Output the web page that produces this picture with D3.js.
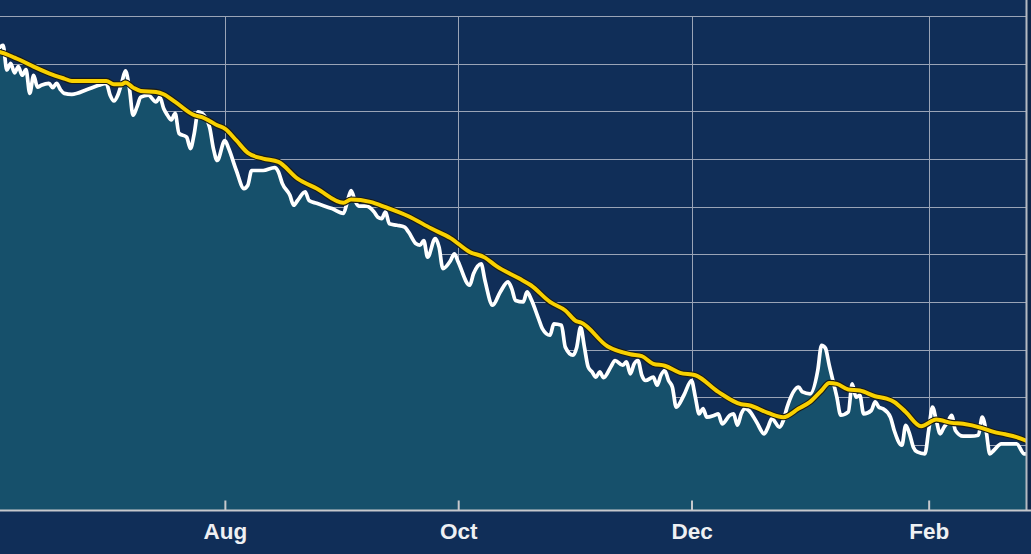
<!DOCTYPE html>
<html>
<head>
<meta charset="utf-8">
<script src="https://cdn.jsdelivr.net/npm/d3@7"></script>
<style>
  html, body { margin: 0; padding: 0; background: #102e58; overflow: hidden; }
</style>
</head>
<body>
<div id="chart"></div>
<script>
// daily series (white line + area)
const dailyDates = [
  "2023-06-03","2023-06-04","2023-06-05","2023-06-06","2023-06-07","2023-06-08","2023-06-09","2023-06-10",
  "2023-06-11","2023-06-12","2023-06-13","2023-06-14","2023-06-16","2023-06-17","2023-06-18","2023-06-19",
  "2023-06-20","2023-06-22","2023-06-26","2023-06-29","2023-07-01","2023-07-02","2023-07-03","2023-07-04",
  "2023-07-05","2023-07-06","2023-07-07","2023-07-08","2023-07-09","2023-07-10","2023-07-12","2023-07-14",
  "2023-07-15","2023-07-16","2023-07-17","2023-07-18","2023-07-19","2023-07-20","2023-07-22","2023-07-23",
  "2023-07-24","2023-07-25","2023-07-26","2023-07-28","2023-07-29","2023-07-30","2023-08-01","2023-08-02",
  "2023-08-04","2023-08-06","2023-08-07","2023-08-08","2023-08-11","2023-08-14","2023-08-15","2023-08-16",
  "2023-08-18","2023-08-19","2023-08-20","2023-08-22","2023-08-23","2023-08-25","2023-08-29","2023-09-01",
  "2023-09-02","2023-09-03","2023-09-04","2023-09-05","2023-09-07","2023-09-09","2023-09-10","2023-09-11",
  "2023-09-12","2023-09-13","2023-09-15","2023-09-17","2023-09-18","2023-09-20","2023-09-21","2023-09-22",
  "2023-09-23","2023-09-25","2023-09-26","2023-09-27","2023-09-29","2023-09-30","2023-10-01","2023-10-04",
  "2023-10-05","2023-10-07","2023-10-08","2023-10-10","2023-10-12","2023-10-14","2023-10-15","2023-10-16",
  "2023-10-18","2023-10-19","2023-10-20","2023-10-22","2023-10-23","2023-10-25","2023-10-26","2023-10-28",
  "2023-10-29","2023-10-31","2023-11-01","2023-11-02","2023-11-03","2023-11-04","2023-11-05","2023-11-06",
  "2023-11-07","2023-11-08","2023-11-10","2023-11-11","2023-11-13","2023-11-14","2023-11-15","2023-11-16",
  "2023-11-17","2023-11-18","2023-11-19","2023-11-21","2023-11-22","2023-11-23","2023-11-24","2023-11-25",
  "2023-11-26","2023-11-27","2023-11-29","2023-12-01","2023-12-02","2023-12-03","2023-12-04","2023-12-05",
  "2023-12-07","2023-12-08","2023-12-09","2023-12-11","2023-12-12","2023-12-13","2023-12-14","2023-12-15",
  "2023-12-16","2023-12-18","2023-12-20","2023-12-21","2023-12-22","2023-12-24","2023-12-25","2023-12-26",
  "2023-12-29","2023-12-30","2024-01-01","2024-01-03","2024-01-04","2024-01-05","2024-01-06","2024-01-08",
  "2024-01-09","2024-01-11","2024-01-12","2024-01-13","2024-01-14","2024-01-15","2024-01-17","2024-01-18",
  "2024-01-19","2024-01-20","2024-01-22","2024-01-23","2024-01-25","2024-01-26","2024-01-27","2024-01-28",
  "2024-01-29","2024-01-31","2024-02-01","2024-02-02","2024-02-03","2024-02-04","2024-02-05","2024-02-06",
  "2024-02-07","2024-02-08","2024-02-10","2024-02-12","2024-02-14","2024-02-15","2024-02-16","2024-02-17",
  "2024-02-18","2024-02-20","2024-02-22","2024-02-24","2024-02-26","2024-02-27"
];
const dailyValues = [
  93.3, 93.9, 88.7, 90.1, 88.1, 89.4, 87.6, 88.8,
  83.8, 87.6, 85.1, 85.5, 85.9, 85.0, 85.9, 84.6,
  83.8, 83.6, 84.6, 85.5, 85.9, 83.4, 82.2, 83.4,
  85.9, 88.5, 85.1, 79.2, 80.9, 83.0, 83.4, 82.0,
  83.0, 80.6, 79.2, 78.2, 79.6, 75.4, 74.6, 72.2,
  75.4, 79.9, 79.6, 76.7, 72.2, 69.7, 73.9, 72.2,
  67.6, 63.8, 64.5, 67.6, 67.6, 68.2, 67.3, 64.9,
  62.4, 60.3, 61.3, 63.1, 61.3, 60.7, 59.6, 58.6,
  61.0, 63.4, 61.3, 60.1, 60.1, 58.9, 57.8, 57.5,
  58.9, 56.4, 56.1, 55.7, 54.7, 52.2, 51.9, 52.9,
  49.4, 53.3, 51.5, 47.0, 48.7, 50.1, 48.4, 43.5,
  45.9, 48.0, 44.5, 39.3, 42.1, 44.2, 42.8, 40.3,
  40.0, 42.1, 40.7, 36.5, 34.4, 33.0, 35.4, 35.1,
  30.5, 28.8, 30.5, 34.7, 30.5, 26.3, 25.3, 24.2,
  25.3, 24.1, 26.5, 27.7, 26.7, 27.4, 24.9, 27.0,
  27.7, 24.6, 23.5, 24.2, 22.5, 24.6, 25.6, 23.5,
  22.1, 17.9, 20.4, 23.5, 20.0, 16.5, 17.6, 15.8,
  16.2, 16.5, 14.4, 16.2, 16.5, 14.1, 16.5, 17.6,
  17.2, 14.8, 12.3, 13.7, 15.5, 13.7, 15.1, 17.9,
  22.1, 21.1, 20.7, 25.6, 30.9, 30.3, 26.7, 20.0,
  16.2, 16.9, 22.8, 20.0, 20.4, 16.5, 17.2, 19.0,
  17.9, 17.6, 15.8, 13.0, 9.9, 14.1, 12.3, 9.5,
  8.5, 8.1, 13.0, 17.9, 15.1, 12.3, 13.7, 14.8,
  16.2, 13.0, 11.8, 11.8, 12.0, 15.8, 13.0, 8.1,
  8.8, 10.2, 10.2, 10.2, 8.1, 8.1
];

// moving average (yellow line)
const avgDates = [
  "2023-06-03","2023-06-05","2023-06-07","2023-06-09","2023-06-12","2023-06-16","2023-06-20","2023-06-22",
  "2023-07-01","2023-07-03","2023-07-05","2023-07-06","2023-07-08","2023-07-10","2023-07-14","2023-07-16",
  "2023-07-19","2023-07-24","2023-07-26","2023-07-28","2023-07-30","2023-08-01","2023-08-04","2023-08-07",
  "2023-08-11","2023-08-15","2023-08-20","2023-08-25","2023-09-01","2023-09-03","2023-09-08","2023-09-12",
  "2023-09-18","2023-09-24","2023-09-29","2023-10-04","2023-10-08","2023-10-11","2023-10-17","2023-10-20",
  "2023-10-25","2023-10-29","2023-11-01","2023-11-02","2023-11-09","2023-11-15","2023-11-18","2023-11-21",
  "2023-11-24","2023-11-28","2023-12-02","2023-12-08","2023-12-14","2023-12-16","2023-12-21","2023-12-25",
  "2023-12-29","2024-01-01","2024-01-04","2024-01-06","2024-01-08","2024-01-11","2024-01-14","2024-01-18",
  "2024-01-21","2024-01-23","2024-01-26","2024-01-30","2024-02-03","2024-02-07","2024-02-10","2024-02-15",
  "2024-02-18","2024-02-21","2024-02-24","2024-02-27"
];
const avgValues = [
  92.5, 92.0, 91.3, 90.6, 89.4, 88.0, 86.9, 86.4,
  86.4, 85.7, 85.7, 86.1, 85.0, 84.3, 84.1, 83.6,
  82.0, 79.2, 78.8, 78.0, 77.1, 76.4, 73.9, 71.3,
  70.1, 69.4, 65.9, 63.8, 60.8, 61.5, 61.0, 59.9,
  58.0, 55.4, 53.4, 50.5, 49.3, 47.5, 44.9, 43.5,
  40.0, 38.2, 35.9, 35.7, 30.7, 29.0, 28.6, 27.0,
  26.6, 25.1, 24.6, 21.1, 18.5, 18.3, 16.7, 15.8,
  17.6, 19.0, 21.4, 23.0, 22.8, 21.6, 21.4, 20.2,
  19.7, 19.0, 16.9, 13.9, 15.3, 14.6, 14.4, 13.5,
  12.7, 12.2, 11.6, 10.7
];

const gridValues = [0, 10, 20, 30, 40, 50, 60, 70, 80, 90, 100];
const monthTicks = ["2023-08-01", "2023-10-01", "2023-12-01", "2024-02-01"];
const monthLabels = ["Aug", "Oct", "Dec", "Feb"];

const width = 1031;
const height = 554;
const plotRight = 1027;
const plotBottom = 510.5;

const parse = d3.utcParse("%Y-%m-%d");
const daily = dailyDates.map((d, i) => ({ date: parse(d), value: dailyValues[i] }));
const avg = avgDates.map((d, i) => ({ date: parse(d), value: avgValues[i] }));

const svg = d3.select("#chart")
  .append("svg")
  .attr("width", width)
  .attr("height", height);

svg.append("rect")
  .attr("width", width)
  .attr("height", height)
  .attr("fill", "#102e58");

const x = d3.scaleUtc()
  .domain([new Date(Date.UTC(2023, 5, 3, 5)), new Date(Date.UTC(2024, 1, 26, 17))])
  .range([0, plotRight]);

const y = d3.scaleLinear()
  .domain([-3.8, 103.4])
  .range([plotBottom, 0]);

svg.append("defs").append("clipPath")
  .attr("id", "plot-clip")
  .append("rect")
  .attr("x", 0)
  .attr("y", 0)
  .attr("width", plotRight - 1)
  .attr("height", plotBottom);

// grid
svg.append("g")
  .selectAll("line")
  .data(gridValues)
  .join("line")
  .attr("x1", 0)
  .attr("x2", plotRight)
  .attr("y1", d => Math.round(y(d)) + 0.5)
  .attr("y2", d => Math.round(y(d)) + 0.5)
  .attr("stroke", "#9aa4b6")
  .attr("stroke-width", 1);

svg.append("g")
  .selectAll("line")
  .data(monthTicks.map(parse))
  .join("line")
  .attr("x1", d => Math.round(x(d)) + 0.5)
  .attr("x2", d => Math.round(x(d)) + 0.5)
  .attr("y1", y(100))
  .attr("y2", plotBottom)
  .attr("stroke", "#9aa4b6")
  .attr("stroke-width", 1);

const plot = svg.append("g").attr("clip-path", "url(#plot-clip)");

const area = d3.area()
  .x(d => x(d.date))
  .y0(plotBottom)
  .y1(d => y(d.value))
  .curve(d3.curveMonotoneX);

plot.append("path")
  .datum(daily)
  .attr("d", area)
  .attr("fill", "#16506b");

const line = d3.line()
  .x(d => x(d.date))
  .y(d => y(d.value))
  .curve(d3.curveMonotoneX);

plot.append("path")
  .datum(daily)
  .attr("d", line)
  .attr("fill", "none")
  .attr("stroke", "#ffffff")
  .attr("stroke-width", 3.7)
  .attr("stroke-linejoin", "round")
  .attr("stroke-linecap", "round");

plot.append("path")
  .datum(avg)
  .attr("d", line)
  .attr("fill", "none")
  .attr("stroke", "#1b1b14")
  .attr("stroke-width", 6.2)
  .attr("stroke-linejoin", "round");

plot.append("path")
  .datum(avg)
  .attr("d", line)
  .attr("fill", "none")
  .attr("stroke", "#f8d000")
  .attr("stroke-width", 4)
  .attr("stroke-linejoin", "round");

// right border
svg.append("rect")
  .attr("x", plotRight)
  .attr("y", 0)
  .attr("width", width - plotRight)
  .attr("height", plotBottom)
  .attr("fill", "#0d2649");

svg.append("line")
  .attr("x1", plotRight - 0.5)
  .attr("x2", plotRight - 0.5)
  .attr("y1", 0)
  .attr("y2", plotBottom)
  .attr("stroke", "#b4b9c2")
  .attr("stroke-width", 2);

// x axis
const xAxis = d3.axisBottom(x)
  .tickValues(monthTicks.map(parse))
  .tickFormat((d, i) => monthLabels[i])
  .tickSizeInner(-10)
  .tickSizeOuter(0)
  .tickPadding(13);

const gx = svg.append("g")
  .attr("transform", `translate(0,${plotBottom})`)
  .call(xAxis);

gx.select(".domain").remove();
gx.selectAll(".tick line")
  .attr("stroke", "#c6c8cc")
  .attr("stroke-width", 2);
gx.selectAll(".tick text")
  .attr("fill", "#eef0f3")
  .style("font-family", "'Liberation Sans', Arial, sans-serif")
  .style("font-size", "22.5px")
  .style("font-weight", "bold");

svg.append("line")
  .attr("x1", 0)
  .attr("x2", width)
  .attr("y1", plotBottom)
  .attr("y2", plotBottom)
  .attr("stroke", "#c6c8cc")
  .attr("stroke-width", 2);
</script>
</body>
</html>
